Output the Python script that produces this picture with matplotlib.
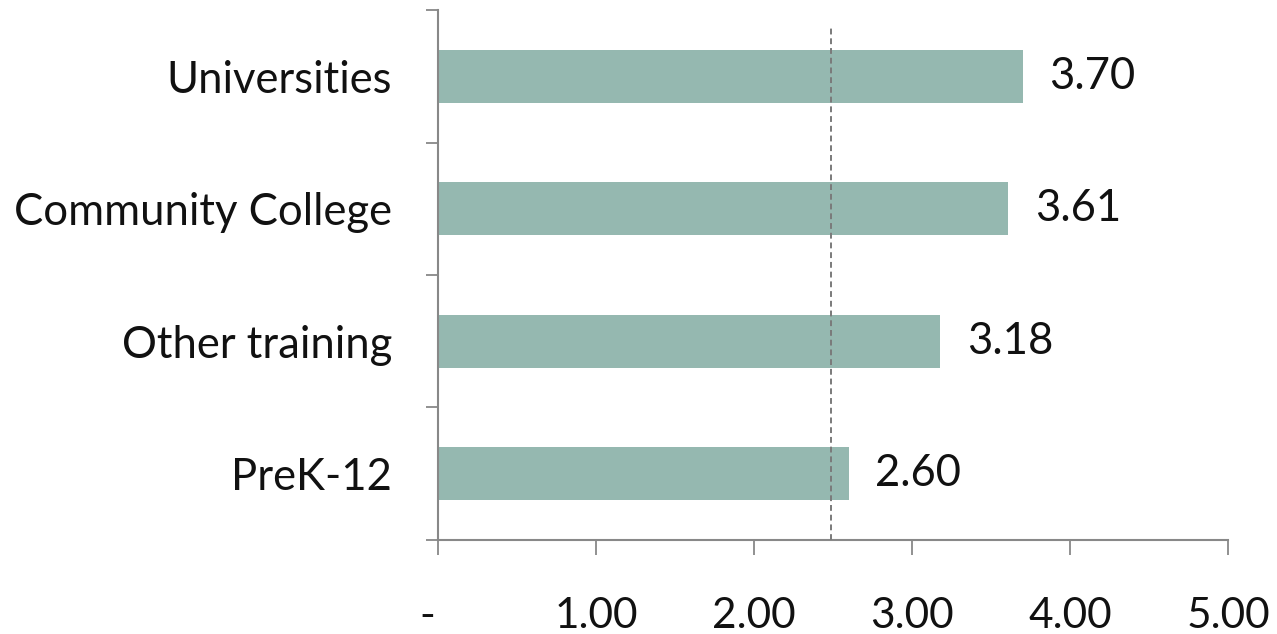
import matplotlib
from matplotlib import pyplot as plt
import matplotlib.transforms as mtransforms
import numpy as np

matplotlib.rcParams["font.family"] = ["Lato", "DejaVu Sans"]

categories = ["Universities", "Community College", "Other training", "PreK-12"]
scores = [3.70, 3.61, 3.18, 2.60]
reference_line = 2.49
xticks = [0, 1, 2, 3, 4, 5]
xtick_labels = ["-", "1.00", "2.00", "3.00", "4.00", "5.00"]

BAR_COLOR = "#95b8b0"
AXIS_COLOR = "#888888"
FONTSIZE = 31.4

fig = plt.figure(figsize=(12.77, 6.34), dpi=100)
ax = fig.add_axes([0.343, 0.1483, 0.9616 - 0.343, 0.9842 - 0.1483])

ypos = np.arange(len(categories))
ax.barh(ypos, scores, height=0.4, color=BAR_COLOR, zorder=2)

# value labels to the right of each bar
for y, v in zip(ypos, scores):
    ax.annotate("{:.2f}".format(v), (v, y), xytext=(19, 0),
                textcoords="offset points", va="center", ha="left",
                fontsize=FONTSIZE, color="#111111")

ax.axvline(reference_line, ymin=0, ymax=0.972, color="#7a7a7a",
           linestyle=(0, (3, 2)), linewidth=1.4, zorder=3)

ax.set_xlim(0, 5)
ax.set_ylim(len(categories) - 0.5, -0.5)

# category boundaries get tick marks, labels sit at the centres
ax.set_yticks(np.arange(len(categories) + 1) - 0.5)
ax.set_yticklabels([])
ax.set_yticks(ypos, minor=True)
ax.set_yticklabels(categories, minor=True, fontsize=FONTSIZE, color="#111111")
ax.tick_params(axis="y", which="major", length=8.6, width=1.3, color=AXIS_COLOR)
ax.tick_params(axis="y", which="minor", length=0, pad=33)

ax.set_xticks(xticks)
ax.set_xticklabels(xtick_labels, fontsize=30.5, color="#111111")
ax.tick_params(axis="x", length=10.8, width=1.3, color=AXIS_COLOR, pad=30)
dx = mtransforms.ScaledTranslation(-11 / 100, 0, fig.dpi_scale_trans)
first = ax.get_xticklabels()[0]
first.set_transform(first.get_transform() + dx)

for side in ["top", "right"]:
    ax.spines[side].set_visible(False)
for side in ["left", "bottom"]:
    ax.spines[side].set_color(AXIS_COLOR)
    ax.spines[side].set_linewidth(1.5)

fig.savefig("out.png", dpi=100)
